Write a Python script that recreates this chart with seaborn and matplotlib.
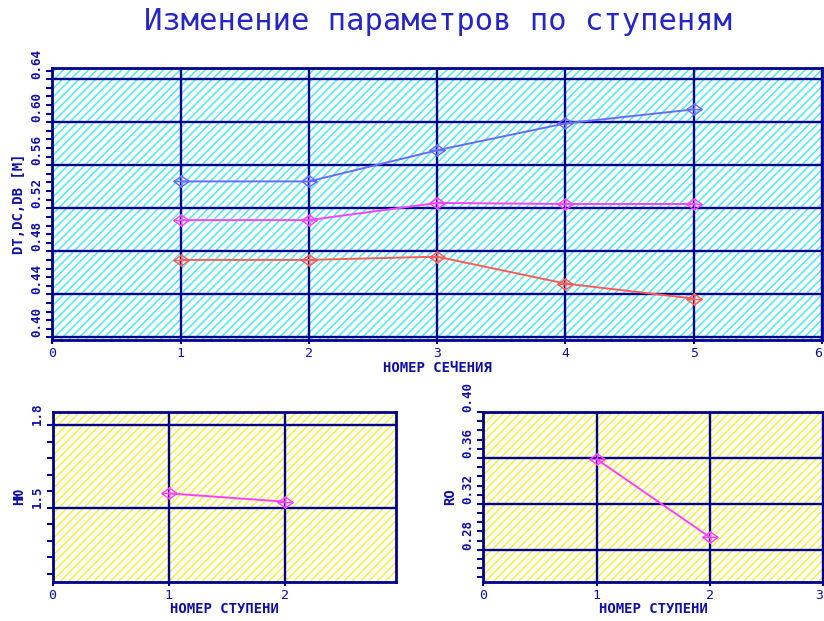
import numpy as np
import pandas as pd
import matplotlib
matplotlib.use("Agg")
import matplotlib.pyplot as plt
import seaborn as sns
from matplotlib.path import Path
from matplotlib.patches import Rectangle
from matplotlib.ticker import MultipleLocator, FixedLocator

# ---- data ----
sections = [1, 2, 3, 4, 5]
dt_values = [0.545, 0.545, 0.574, 0.599, 0.612]   # blue
dc_values = [0.509, 0.509, 0.525, 0.524, 0.524]   # magenta
db_values = [0.472, 0.472, 0.475, 0.450, 0.436]   # red
series_names = ["DT", "DC", "DB"]

stages = [1, 2]
nu_values = [1.552, 1.522]
ro_values = [0.359, 0.291]

title = "Изменение параметров по ступеням"
main_xlabel = "НОМЕР СЕЧЕНИЯ"
main_ylabel = "DT,DC,DB [M]"
stage_xlabel = "НОМЕР СТУПЕНИ"
ll_ylabel = "НЮ"
lr_ylabel = "RO"

# ---- style ----
sns.set_theme(style="white")
plt.rcParams["font.family"] = ["DejaVu Sans Mono", "DejaVu Sans"]
plt.rcParams["hatch.linewidth"] = 1.1

NAVY = "#000090"
TXT = "#1010a8"
series_colors = {"DT": "#6a6aff", "DC": "#ff40ff", "DB": "#ff5a5a"}

# marker: diamond with cross
verts = [(-1, 0), (0, 0.72), (1, 0), (0, -0.72), (-1, 0),
         (0, 0.85), (0, -0.85), (-1, 0), (1, 0)]
codes = [Path.MOVETO, Path.LINETO, Path.LINETO, Path.LINETO, Path.CLOSEPOLY,
         Path.MOVETO, Path.LINETO, Path.MOVETO, Path.LINETO]
mpath = Path(verts, codes)

W, H = 824, 621
fig = plt.figure(figsize=(W / 100, H / 100), dpi=100)


def fax(x0, y0, x1, y1):
    return fig.add_axes([x0 / W, (H - y1) / H, (x1 - x0) / W, (y1 - y0) / H])


ax_m = fax(52.3, 68, 822, 340)
ax_l = fax(52.5, 411.7, 396, 581.7)
ax_r = fax(483.3, 411.7, 823, 581.7)


def style_axes(ax, hatch_color, xlim, ylim, major, minor, yfmt, last_right):
    ax.set_facecolor("white")
    ax.add_patch(Rectangle((0, 0), 1, 1, transform=ax.transAxes,
                           facecolor="white", edgecolor=hatch_color,
                           hatch="////", lw=0, zorder=0))
    ax.set_xlim(*xlim)
    ax.set_ylim(*ylim)
    ax.yaxis.set_major_locator(FixedLocator(major))
    ax.yaxis.set_minor_locator(MultipleLocator(minor))
    ax.grid(True, which="major", color=NAVY, lw=1.7, zorder=1)
    ax.set_axisbelow(False)
    for s in ax.spines.values():
        s.set_color(NAVY)
        s.set_linewidth(2)
        s.set_visible(True)
    ax.tick_params(axis="y", which="both", left=True, direction="out",
                   length=4.5, width=1.5, color=NAVY, labelcolor=TXT,
                   labelsize=9, pad=2)
    ax.tick_params(axis="x", which="both", bottom=True, direction="out",
                   length=3, width=1.5, color=NAVY, labelcolor=TXT,
                   labelsize=9.5, pad=2)
    ax.set_yticklabels([yfmt.format(v) for v in major])
    for lab in ax.get_yticklabels():
        lab.set_rotation(90)
        lab.set_va("bottom")
        lab.set_ha("right")
        lab.set_fontweight("bold")
    xt = list(range(0, int(np.floor(xlim[1] + 1e-9)) + 1))
    ax.set_xticks(xt)
    ax.set_xticklabels([str(t) for t in xt])
    if last_right:
        ax.get_xticklabels()[-1].set_ha("right")


style_axes(ax_m, "#48eeee", (0, 6), (0.3975, 0.6505),
           [0.40, 0.44, 0.48, 0.52, 0.56, 0.60, 0.64], 0.008, "{:.2f}", True)
style_axes(ax_l, "#f2f23a", (0, 2.96), (1.232, 1.848),
           [1.5, 1.8], 0.06, "{:.1f}", False)
style_axes(ax_r, "#f2f23a", (0, 3.0), (0.2522, 0.4003),
           [0.28, 0.32, 0.36, 0.40], 0.008, "{:.2f}", True)

# ---- main data ----
df = pd.DataFrame({
    "section": sections * 3,
    "value": dt_values + dc_values + db_values,
    "param": [n for n in series_names for _ in sections],
})
sns.lineplot(data=df, x="section", y="value", hue="param",
             palette=series_colors, marker=mpath, markersize=11,
             markerfacecolor="none", linewidth=1.4, legend=False,
             ax=ax_m, zorder=3)
for ln in ax_m.lines:
    ln.set_markeredgecolor(ln.get_color())
    ln.set_markeredgewidth(1.0)

df_l = pd.DataFrame({"stage": stages, "value": nu_values})
sns.lineplot(data=df_l, x="stage", y="value", color="#ff40ff",
             marker=mpath, markersize=11, markerfacecolor="none",
             linewidth=1.4, ax=ax_l, zorder=3)
df_r = pd.DataFrame({"stage": stages, "value": ro_values})
sns.lineplot(data=df_r, x="stage", y="value", color="#ff40ff",
             marker=mpath, markersize=11, markerfacecolor="none",
             linewidth=1.4, ax=ax_r, zorder=3)
for ax in (ax_l, ax_r):
    for ln in ax.lines:
        ln.set_markeredgecolor(ln.get_color())
        ln.set_markeredgewidth(1.0)

# ---- labels ----
lab_kw = dict(color=TXT, fontsize=10, fontweight="bold")
ax_m.set_xlabel(main_xlabel, labelpad=1, **lab_kw)
ax_m.set_ylabel(main_ylabel, labelpad=3, **lab_kw)
ax_l.set_xlabel(stage_xlabel, labelpad=0, **lab_kw)
ax_l.set_ylabel(ll_ylabel, labelpad=3, **lab_kw)
ax_r.set_xlabel(stage_xlabel, labelpad=0, **lab_kw)
ax_r.set_ylabel(lr_ylabel, labelpad=3, **lab_kw)

fig.text(438 / W, 1 - 21 / H, title, ha="center", va="center",
         color="#2626c8", fontsize=22)

fig.savefig("out.png", dpi=100)
